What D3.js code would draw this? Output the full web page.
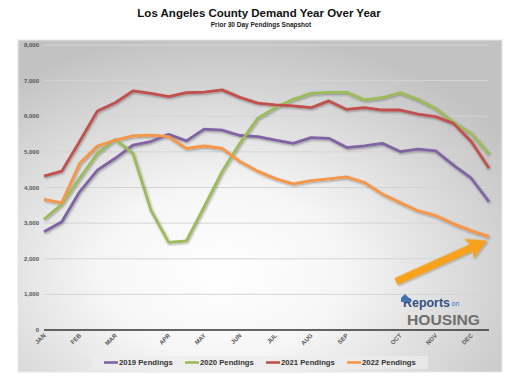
<!DOCTYPE html>
<html>
<head>
<meta charset="utf-8">
<script src="https://cdn.jsdelivr.net/npm/d3@7"></script>
<style>
  body { margin: 0; background: #fff; }
  text { font-family: "Liberation Sans", Arial, sans-serif; }
</style>
</head>
<body>
<script>
// month labels sit on some of the 26 snapshot points
const months = ["JAN", "FEB", "MAR", "APR", "MAY", "JUN", "JUL", "AUG", "SEP", "OCT", "NOV", "DEC"]
const monthIndex = [0, 2, 4, 7, 9, 11, 13, 15, 17, 20, 22, 24]
const yTicks = [0, 1000, 2000, 3000, 4000, 5000, 6000, 7000, 8000]

const pend2019 = [2760, 3040, 3880, 4490, 4820, 5190, 5290, 5490, 5310, 5640, 5610, 5460, 5430, 5330, 5240, 5400, 5380, 5120, 5170, 5240, 5010, 5080, 5030, 4630, 4260, 3600]
const pend2020 = [3110, 3530, 4260, 4960, 5350, 4960, 3370, 2460, 2500, 3460, 4440, 5240, 5940, 6240, 6475, 6640, 6670, 6670, 6460, 6520, 6660, 6475, 6220, 5830, 5520, 4940]
const pend2021 = [4320, 4460, 5290, 6150, 6380, 6710, 6640, 6550, 6660, 6680, 6740, 6530, 6370, 6320, 6290, 6240, 6430, 6190, 6240, 6175, 6175, 6060, 5990, 5800, 5290, 4540]
const pend2022 = [3670, 3570, 4680, 5165, 5330, 5450, 5470, 5430, 5100, 5165, 5100, 4730, 4460, 4250, 4100, 4190, 4240, 4300, 4140, 3820, 3580, 3350, 3210, 2980, 2790, 2620]

const seriesNames = ["2019 Pendings", "2020 Pendings", "2021 Pendings", "2022 Pendings"]
const seriesColors = ["#8064A2", "#9BBB59", "#C0504D", "#F79646"]
const series = [pend2019, pend2020, pend2021, pend2022]

const width = 520
const height = 389
const margin = {top: 45, right: 27, bottom: 59, left: 44}

let svg = d3.select("body").append("svg")
    .attr("width", width)
    .attr("height", height)

let defs = svg.append("defs")
let grad = defs.append("radialGradient")
    .attr("id", "bg")
    .attr("cx", "42%").attr("cy", "70%").attr("r", "72%")
grad.append("stop").attr("offset", "0%").attr("stop-color", "#ffffff")
grad.append("stop").attr("offset", "35%").attr("stop-color", "#f6f6f6")
grad.append("stop").attr("offset", "100%").attr("stop-color", "#c2c2c2")

let shadow = defs.append("filter").attr("id", "shadow")
    .attr("x", "-5%").attr("y", "-5%").attr("width", "110%").attr("height", "120%")
shadow.append("feDropShadow")
    .attr("dx", 0.8).attr("dy", 1.2).attr("stdDeviation", 0.8)
    .attr("flood-color", "#000").attr("flood-opacity", 0.35)

// title
svg.append("text")
    .attr("x", 259).attr("y", 17)
    .attr("text-anchor", "middle")
    .attr("font-size", 11.5).attr("font-weight", "bold").attr("fill", "#111")
    .text("Los Angeles County Demand Year Over Year")
svg.append("text")
    .attr("x", 261).attr("y", 27)
    .attr("text-anchor", "middle")
    .attr("font-size", 6.5).attr("font-weight", "bold").attr("fill", "#222")
    .text("Prior 30 Day Pendings Snapshot")

// panel
svg.append("rect")
    .attr("x", 18).attr("y", 40)
    .attr("width", 484).attr("height", 332)
    .attr("fill", "url(#bg)")
    .attr("stroke", "#e8e8e8")

let x = d3.scalePoint()
    .domain(d3.range(pend2019.length))
    .range([margin.left, width - margin.right - 4])

let y = d3.scaleLinear()
    .domain([0, 8000])
    .range([height - margin.bottom, margin.top])

// gridlines
svg.append("g")
    .selectAll("line")
    .data(yTicks.filter(d => d > 0))
    .join("line")
    .attr("x1", x(0)).attr("x2", x(25))
    .attr("y1", d => y(d)).attr("y2", d => y(d))
    .attr("stroke", "#d4d4d4")
    .attr("stroke-width", 1)

svg.append("g")
    .attr("font-size", 6).attr("font-weight", "bold").attr("fill", "#555")
    .attr("text-anchor", "end")
    .selectAll("text")
    .data(yTicks)
    .join("text")
    .attr("x", 39)
    .attr("y", d => y(d) + 2)
    .text(d => d3.format(",")(d))

// baseline
svg.append("line")
    .attr("x1", x(0)).attr("x2", x(25))
    .attr("y1", y(0)).attr("y2", y(0))
    .attr("stroke", "#333").attr("stroke-width", 1.6)

svg.append("g")
    .attr("font-size", 6).attr("font-weight", "bold").attr("fill", "#555")
    .attr("text-anchor", "end")
    .selectAll("text")
    .data(months)
    .join("text")
    .attr("transform", (d, i) => `translate(${x(monthIndex[i]) + 2},${y(0) + 6}) rotate(-45)`)
    .text(d => d)

// lines
let line = d3.line()
    .x((d, i) => x(i))
    .y(d => y(d))

svg.append("g")
    .attr("fill", "none")
    .attr("stroke-width", 2.8)
    .attr("stroke-linejoin", "round")
    .attr("filter", "url(#shadow)")
    .selectAll("path")
    .data(series)
    .join("path")
    .attr("stroke", (d, i) => seriesColors[i])
    .attr("d", line)

// arrow pointing at the last 2022 value
let tipX = x(25) - 2
let tipY = y(pend2022[25]) + 4
let tailX = tipX - 91
let tailY = tipY + 41
let ang = Math.atan2(tipY - tailY, tipX - tailX)
let len = Math.hypot(tipX - tailX, tipY - tailY)
svg.append("path")
    .attr("transform", `translate(${tailX},${tailY}) rotate(${ang * 180 / Math.PI})`)
    .attr("d", `M0,-3.8 L${len - 17},-3.8 L${len - 20},-11 L${len},0 L${len - 20},11 L${len - 17},3.8 L0,3.8 Z`)
    .attr("fill", "#F7A11A")
    .attr("filter", "url(#shadow)")

// logo
let logo = svg.append("g")
logo.append("text")
    .attr("x", 403).attr("y", 307)
    .attr("font-size", 13).attr("fill", "#34507f")
    .attr("font-family", "Open Sans, sans-serif")
    .attr("font-weight", 600)
    .attr("textLength", 47)
    .attr("lengthAdjust", "spacingAndGlyphs")
    .text("Reports")
logo.append("text")
    .attr("x", 451.5).attr("y", 306)
    .attr("font-size", 7).attr("fill", "#3c74b8")
    .text("on")
logo.append("text")
    .attr("x", 407).attr("y", 325)
    .attr("font-size", 15.5).attr("fill", "#6e6e6e")
    .attr("font-family", "Open Sans, sans-serif")
    .attr("font-weight", 600)
    .attr("textLength", 73)
    .attr("lengthAdjust", "spacingAndGlyphs")
    .text("HOUSING")
logo.append("path")
    .attr("d", "M401,298 l4,-4 l4,4 v4 h-8 Z")
    .attr("fill", "#3c74b8")

// legend
let legend = svg.append("g")
legend.append("rect")
    .attr("x", 92).attr("y", 356)
    .attr("width", 336).attr("height", 13)
    .attr("fill", "#ededed").attr("opacity", 0.7)

let legendX = [104, 185, 266, 347]
let item = legend.selectAll("g")
    .data(seriesNames)
    .join("g")
    .attr("transform", (d, i) => `translate(${legendX[i]},362.5)`)
item.append("line")
    .attr("x1", 0).attr("x2", 14)
    .attr("stroke", (d, i) => seriesColors[i])
    .attr("stroke-width", 2.6)
item.append("text")
    .attr("x", 15).attr("y", 2.7)
    .attr("font-size", 7.7).attr("font-weight", "bold").attr("fill", "#333")
    .text(d => d)
</script>
</body>
</html>
